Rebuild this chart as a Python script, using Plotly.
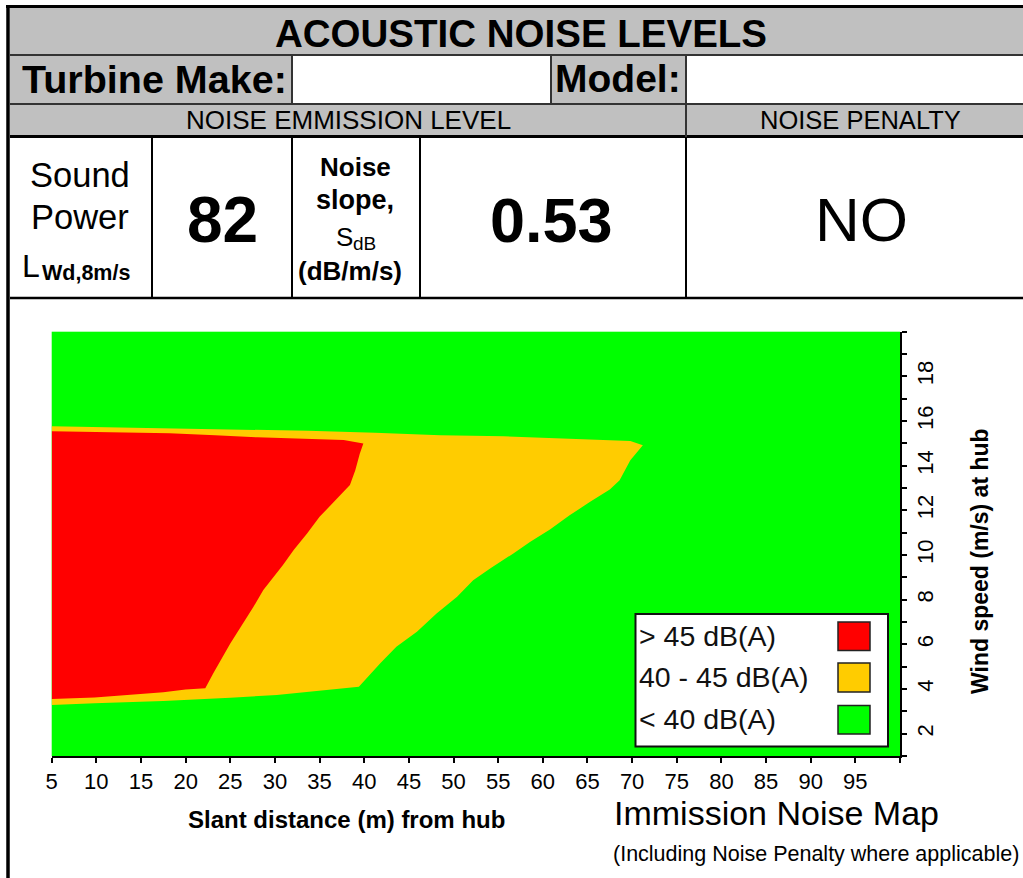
import plotly.graph_objects as go

# ---------------- data ----------------
# outline of the >= 40 dB(A) zone : slant distance (m), wind speed (m/s)
dist_40 = [5, 13.6, 24.0, 33.7, 41.2, 48.5, 55.6, 60.4, 69.8, 71.2, 69.8, 68.6, 67.5,
           65.3, 63.0, 60.8, 58.6, 56.7, 54.1, 52.2, 50.4, 48.1, 45.9, 43.6, 41.8,
           39.4, 35.0, 30.2, 25.0, 22.2, 17.5, 9.8, 5]
wind_40 = [15.77, 15.71, 15.65, 15.56, 15.47, 15.36, 15.32, 15.26, 15.11, 14.92, 14.24,
           13.35, 12.93, 12.38, 11.78, 11.14, 10.59, 10.07, 9.40, 8.87, 8.13, 7.38,
           6.56, 5.89, 5.15, 4.10, 3.92, 3.73, 3.61, 3.55, 3.46, 3.36, 3.28]
# outline of the > 45 dB(A) zone
dist_45 = [5, 13.5, 18.2, 23.3, 28.0, 37.7, 39.9, 39.5, 39.0, 38.4, 36.5, 35.0, 33.6,
           32.1, 30.9, 30.0, 28.7, 27.6, 26.5, 25.0, 23.1, 22.2, 20.0, 17.5, 9.8, 5]
wind_45 = [15.54, 15.50, 15.45, 15.36, 15.27, 15.15, 14.99, 14.54, 13.80, 13.13, 12.31,
           11.71, 10.96, 10.22, 9.55, 9.10, 8.43, 7.68, 7.01, 6.04, 4.70, 4.03, 3.98,
           3.85, 3.62, 3.55]

x_ticks = list(range(5, 101, 5))
x_labels = [str(v) for v in range(5, 100, 5)] + [""]
y_ticks = list(range(1, 21))
y_labels = [str(v) if (v % 2 == 0 and v <= 18) else "" for v in y_ticks]

legend_labels = ["> 45 dB(A)", "40 - 45 dB(A)", "< 40 dB(A)"]
zone_colors = ["#FF0000", "#FFCC00", "#00FF00"]

sound_power = "82"
noise_slope = "0.53"
noise_penalty = "NO"

# ---------------- layout helpers ----------------
W, H = 1023, 878
FONT = "Liberation Sans, Arial, sans-serif"


def X(px):
    return px / W


def Y(py):
    return 1 - py / H


fig = go.Figure()
fig.add_trace(go.Scatter(x=dist_40, y=wind_40, fill="toself", mode="lines",
                         fillcolor=zone_colors[1], line=dict(width=0, color=zone_colors[1]),
                         hoverinfo="skip", showlegend=False))
fig.add_trace(go.Scatter(x=dist_45, y=wind_45, fill="toself", mode="lines",
                         fillcolor=zone_colors[0], line=dict(width=0, color=zone_colors[0]),
                         hoverinfo="skip", showlegend=False))

shapes = []


def rect(x0, y0, x1, y1, fill, lw=0, lc="black"):
    shapes.append(dict(type="rect", xref="paper", yref="paper", x0=X(x0), x1=X(x1),
                       y0=Y(y0), y1=Y(y1), fillcolor=fill,
                       line=dict(width=lw, color=lc), layer="above"))


def line(x0, y0, x1, y1, lw, lc="black"):
    shapes.append(dict(type="line", xref="paper", yref="paper", x0=X(x0), x1=X(x1),
                       y0=Y(y0), y1=Y(y1), line=dict(width=lw, color=lc), layer="above"))


# header table
rect(10, 8, 1023, 137, "#C0C0C0")
rect(292, 56, 551, 104, "white")
rect(686, 56, 1023, 104, "white")
line(6, 6.5, 1023, 6.5, 3)
line(8, 5, 8, 878, 3.5)
line(10, 55, 1023, 55, 2, "#333333")
line(10, 104, 1023, 104, 2, "#333333")
line(10, 136.5, 1023, 136.5, 3)
line(10, 298, 1023, 298, 2.5)
for vx in (292, 551, 686):
    line(vx, 55, vx, 104, 2, "#333333")
line(686, 104, 686, 137, 2, "#333333")
for vx in (152, 292, 420, 686):
    line(vx, 137, vx, 298, 2)

# legend box
rect(635.5, 614, 888, 746.5, "white", 2, "#111111")
for (t, b), c in zip(((622, 650.5), (663, 692), (705.5, 734)), zone_colors):
    rect(838, t, 870, b, c, 1.5, "#222222")

annotations = []


def text(s, px, py, size, bold=False, anchor="center", color="black", angle=0):
    if bold:
        s = "<b>" + s + "</b>"
    annotations.append(dict(text=s, xref="paper", yref="paper", x=X(px), y=Y(py),
                            xanchor=anchor, yanchor="middle", showarrow=False,
                            textangle=angle, borderpad=0,
                            font=dict(family=FONT, size=size, color=color)))


text("ACOUSTIC NOISE LEVELS", 521, 33, 38.5, True)
text("Turbine Make:", 154, 79, 39.5, True)
text("Model:", 618, 79, 39, True)
text("NOISE EMMISSION LEVEL", 348, 120, 26)
text("NOISE PENALTY", 860, 120, 25.5)
text("Sound", 80, 175, 34.5)
text("Power", 80, 217, 34.5)
text("L", 21, 266, 32, anchor="left")
text("Wd,8m/s", 41, 273, 21.5, True, anchor="left")
text(sound_power, 222, 220, 64, True)
text("Noise", 355, 167, 26, True)
text("slope,", 355, 200, 27, True)
text("S", 344, 237, 26)
text("dB", 352, 244, 19, anchor="left")
text("(dB/m/s)", 350, 271, 26, True)
text(noise_slope, 551, 220, 63, True)
text(noise_penalty, 861, 220, 62)

text("Slant distance (m) from hub", 346, 819, 24, True)
text("Immission Noise Map", 776, 813, 34)
text("(Including Noise Penalty where applicable)", 816, 854, 21.5)
text("Wind speed (m/s) at hub", 980, 561, 23, True, angle=-90)

for lab, py in zip(legend_labels, (636, 677, 719)):
    text(lab, 638, py, 28.5, anchor="left", color="#111111")

fig.update_layout(
    width=W, height=H,
    margin=dict(l=0, r=0, t=0, b=0, pad=0, autoexpand=False),
    paper_bgcolor="white",
    plot_bgcolor=zone_colors[2],
    showlegend=False,
    shapes=shapes,
    annotations=annotations,
    font=dict(family=FONT, color="black"),
    xaxis=dict(domain=[X(51.7), X(900)], range=[5, 100], tickmode="array", automargin=False,
               tickvals=x_ticks, ticktext=x_labels, ticks="outside", ticklen=5,
               tickwidth=1.5, tickcolor="black", showline=True, linecolor="black",
               linewidth=2, showgrid=False, zeroline=False,
               tickfont=dict(family=FONT, size=22, color="black"), fixedrange=True),
    yaxis=dict(domain=[Y(756), Y(331.7)], range=[1, 20], side="right", tickmode="array",
               automargin=False,
               tickvals=y_ticks, ticktext=y_labels, ticks="outside", ticklen=5,
               tickwidth=1.5, tickcolor="black", showline=True, linecolor="black",
               linewidth=2, showgrid=False, zeroline=False, tickangle=-90,
               tickfont=dict(family=FONT, size=22, color="black"), fixedrange=True),
)

fig.write_html("out.html",
               post_script="document.body.style.margin='0';document.body.style.overflow='hidden';",
               config={"displayModeBar": False})
